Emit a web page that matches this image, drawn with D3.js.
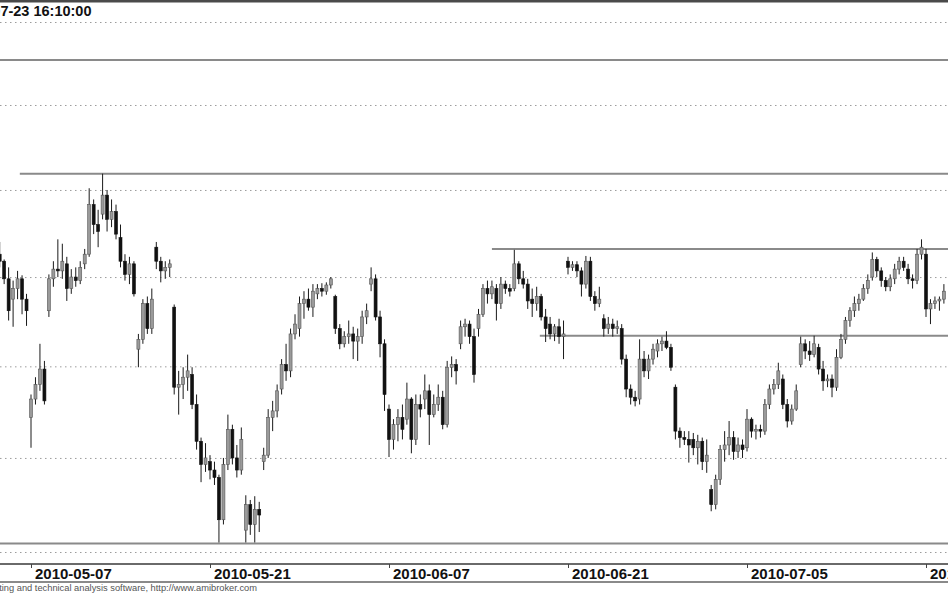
<!DOCTYPE html>
<html>
<head>
<meta charset="utf-8">
<script src="https://cdn.jsdelivr.net/npm/d3@7"></script>
<style>
  body { margin: 0; background: #fff; }
  svg { display: block; }
</style>
</head>
<body>
<svg id="chart" width="948" height="593"></svg>
<script>
// ---------- DATA ----------
const titleText = "2010-07-23 16:10:00";
const footerText = "AmiBroker - advanced charting and technical analysis software, http://www.amibroker.com";

const days = [
  "2010-05-05","2010-05-06","2010-05-07","2010-05-10","2010-05-11","2010-05-12","2010-05-13","2010-05-14",
  "2010-05-17","2010-05-18","2010-05-19","2010-05-20","2010-05-21","2010-05-24","2010-05-25","2010-05-26",
  "2010-05-27","2010-05-28","2010-05-31","2010-06-01","2010-06-02","2010-06-04","2010-06-07","2010-06-08",
  "2010-06-09","2010-06-10","2010-06-11","2010-06-14","2010-06-15","2010-06-16","2010-06-17","2010-06-18",
  "2010-06-21","2010-06-22","2010-06-23","2010-06-24","2010-06-25","2010-06-28","2010-06-29","2010-06-30",
  "2010-07-01","2010-07-02","2010-07-05","2010-07-06","2010-07-07","2010-07-08","2010-07-09","2010-07-12",
  "2010-07-13","2010-07-14","2010-07-15","2010-07-16","2010-07-19","2010-07-20"
];
const slots = ["09:00","11:10","13:20","15:30"];

const opens = [
  40.32,40.26,40.18,39.98, 39.75,39.87,39.98,39.75, 38.44,38.64,38.80,38.97, 39.62,39.98,40.09,40.07,
  40.15,39.87,40.00,39.96, 40.15,40.26,40.83,40.60, 40.72,40.94,40.66,40.75, 40.45,40.18,40.03,40.15,
  39.19,39.30,39.70,39.42, 40.34,40.18,40.07,40.11, 39.66,38.77,38.80,38.88, 38.91,38.58,38.18,37.93,
  37.96,37.87,37.79,37.34, 37.93,38.31,38.00,37.87, 37.23,37.50,37.29,37.45, 37.96,38.03,38.44,38.51,
  38.75,39.02,38.95,39.36, 39.42,39.70,39.75,39.66, 39.81,39.87,39.84,39.91, 39.78,39.42,39.25,39.33,
  39.36,39.28,39.33,39.55, 39.92,39.98,39.55,39.25, 38.53,38.20,38.36,38.44, 38.42,38.64,38.20,38.58,
  38.64,38.73,38.47,38.58, 38.66,38.36,38.99,39.02, 39.25,39.44,39.47,39.33, 39.42,39.58,39.87,39.81,
  39.87,39.70,39.92,39.87, 39.87,40.15,39.98,39.92, 39.75,39.70,39.78,39.55, 39.47,39.36,39.44,39.33,
  40.18,40.11,40.14,40.07, 39.92,40.18,39.78,39.70, 39.53,39.42,39.47,39.42, 39.42,39.08,38.75,38.66,
  38.64,39.08,38.95,39.08, 39.17,39.25,39.28,39.21, 38.77,38.29,38.22,38.20, 38.20,38.11,38.18,37.96,
  37.66,37.50,37.77,38.09, 38.14,38.22,38.07,38.14, 38.11,38.42,38.29,38.31, 38.29,38.58,38.75,38.80,
  38.86,38.58,38.40,38.53, 39.02,39.25,39.17,39.13, 39.21,38.97,38.84,38.86, 38.77,39.10,39.30,39.51,
  39.62,39.70,39.75,39.87, 40.00,40.20,40.07,39.96, 39.89,39.98,40.09,40.18, 40.09,39.98,39.96,40.26,
  40.26,39.64,39.70,39.73, 39.75
];
const highs = [
  40.43,40.40,40.20,40.11, 39.96,40.07,40.02,39.81, 38.69,38.88,39.25,39.06, 40.03,40.18,40.43,40.38,
  40.23,40.09,40.11,40.18, 40.32,41.02,40.89,40.77, 41.19,41.00,40.89,40.83, 40.60,40.26,40.23,40.18,
  39.36,39.75,39.78,39.87, 40.40,40.23,40.18,40.20, 39.69,38.95,38.99,39.13, 38.99,38.69,38.22,38.16,
  38.03,37.96,37.82,38.00, 38.47,38.36,38.14,38.33, 37.60,37.55,37.59,37.53, 38.11,38.53,38.62,38.80,
  39.08,39.25,39.42,39.58, 39.78,39.84,39.87,39.92, 39.92,39.93,39.94,40.00, 39.80,39.47,39.39,39.51,
  39.44,39.42,39.62,39.70, 40.11,40.03,39.62,39.30, 38.58,38.42,38.53,38.58, 38.82,38.66,38.69,38.69,
  38.91,38.80,38.69,38.80, 38.73,39.06,39.11,39.08, 39.51,39.53,39.51,39.42, 39.64,39.92,39.96,39.96,
  39.92,40.00,39.96,39.92, 40.31,40.18,40.07,39.98, 39.87,39.89,39.81,39.64, 39.55,39.47,39.53,39.51,
  40.23,40.18,40.18,40.11, 40.24,40.23,39.84,39.89, 39.58,39.55,39.53,39.51, 39.47,39.13,38.80,38.73,
  39.30,39.17,39.13,39.25, 39.30,39.33,39.39,39.25, 38.80,38.33,38.29,38.29, 38.27,38.25,38.22,38.20,
  37.71,37.82,38.14,38.29, 38.40,38.29,38.22,38.20, 38.53,38.44,38.36,38.36, 38.64,38.80,38.86,39.04,
  38.91,38.64,38.58,38.80, 39.33,39.30,39.28,39.34, 39.25,39.06,38.91,38.91, 39.19,39.36,39.55,39.66,
  39.78,39.81,39.92,40.03, 40.28,40.23,40.11,40.00, 40.03,40.15,40.23,40.23, 40.15,40.03,40.32,40.43,
  40.32,39.75,39.78,39.78, 39.92
];
const lows = [
  40.18,40.11,39.92,39.51, 39.44,39.75,39.58,39.45, 38.11,38.58,38.73,38.58, 39.55,39.89,40.00,39.98,
  39.73,39.81,39.89,39.92, 40.09,40.23,40.49,40.34, 40.66,40.52,40.57,40.43, 40.11,39.96,39.92,39.78,
  38.99,39.25,39.36,39.36, 40.09,39.94,39.98,40.00, 38.69,38.47,38.64,38.73, 38.53,38.09,37.74,37.85,
  37.77,37.71,37.10,37.29, 37.87,37.93,37.79,37.82, 37.10,37.18,37.10,37.21, 37.87,38.00,38.29,38.44,
  38.69,38.84,38.88,39.30, 39.33,39.53,39.62,39.55, 39.75,39.78,39.80,39.87, 39.36,39.19,39.21,39.25,
  39.08,39.06,39.25,39.47, 39.84,39.51,39.10,38.51, 38.01,38.09,38.18,38.20, 38.36,38.05,38.14,38.44,
  38.53,38.14,38.44,38.51, 38.31,38.33,38.88,38.80, 39.19,39.33,39.25,38.82, 39.33,39.55,39.70,39.75,
  39.51,39.64,39.81,39.78, 39.84,39.92,39.87,39.64, 39.55,39.62,39.51,39.27, 39.30,39.28,39.25,39.08,
  40.03,40.07,40.00,39.78, 39.87,39.73,39.62,39.66, 39.33,39.36,39.33,39.36, 39.02,38.66,38.58,38.56,
  38.58,38.88,38.86,39.02, 39.10,39.17,39.19,38.95, 38.20,38.11,38.14,37.95, 38.03,37.93,37.87,37.84,
  37.43,37.45,37.71,37.96, 38.03,37.98,38.00,38.00, 38.07,38.22,38.20,38.22, 38.25,38.53,38.69,38.75,
  38.53,38.33,38.36,38.51, 38.99,39.08,39.06,39.10, 38.91,38.73,38.77,38.66, 38.73,39.08,39.25,39.44,
  39.55,39.62,39.73,39.81, 39.96,40.00,39.89,39.84, 39.84,39.92,40.03,40.07, 39.92,39.87,39.92,40.20,
  39.55,39.47,39.64,39.62, 39.70
];
const closes = [
  40.26,40.18,39.98,39.62, 39.87,39.98,39.75,39.62, 38.64,38.80,38.97,38.62, 39.98,40.09,40.07,40.18,
  39.87,40.00,39.96,40.11, 40.26,40.83,40.60,40.52, 40.94,40.66,40.75,40.49, 40.18,40.03,40.15,39.81,
  39.30,39.70,39.42,39.75, 40.18,40.07,40.11,40.15, 38.77,38.80,38.88,38.95, 38.58,38.18,37.93,38.00,
  37.87,37.79,37.34,37.93, 38.31,38.00,37.87,38.20, 37.50,37.29,37.45,37.39, 38.03,38.44,38.51,38.73,
  39.02,38.95,39.36,39.47, 39.70,39.75,39.66,39.84, 39.87,39.84,39.91,39.98, 39.42,39.25,39.33,39.36,
  39.28,39.33,39.55,39.62, 39.98,39.55,39.25,38.69, 38.20,38.36,38.44,38.31, 38.64,38.20,38.58,38.53,
  38.73,38.47,38.58,38.66, 38.36,38.99,39.02,38.95, 39.44,39.47,39.33,38.91, 39.58,39.87,39.81,39.89,
  39.70,39.92,39.87,39.84, 40.15,39.98,39.92,39.73, 39.70,39.78,39.55,39.42, 39.36,39.44,39.33,39.36,
  40.11,40.14,40.07,39.92, 40.18,39.78,39.70,39.75, 39.42,39.47,39.42,39.44, 39.08,38.75,38.66,38.62,
  39.08,38.95,39.08,39.19, 39.25,39.28,39.21,38.99, 38.29,38.22,38.20,38.14, 38.11,38.18,37.96,38.03,
  37.50,37.77,38.09,38.14, 38.22,38.07,38.14,38.09, 38.42,38.29,38.31,38.29, 38.58,38.75,38.80,38.95,
  38.58,38.40,38.53,38.73, 39.25,39.17,39.13,39.25, 38.97,38.84,38.86,38.77, 39.10,39.30,39.51,39.62,
  39.70,39.75,39.87,39.96, 40.20,40.07,39.96,39.89, 39.98,40.09,40.18,40.11, 39.98,39.96,40.26,40.34,
  39.64,39.70,39.73,39.75, 39.84
];

const tickDates = ["2010-05-07","2010-05-21","2010-06-07","2010-06-21","2010-07-05","2010-07-19"];
const gridPrices = [37, 38, 39, 40, 41, 42, 43];
const levelPrices = [42.54, 41.19, 40.32, 39.34, 37.09];
const levelStartBars = [0, 5.5, 111, 121.7, 0];

// ---------- BUILD ----------
const bars = opens.map((o, i) => ({
  i,
  date: days[Math.floor(i / slots.length)],
  time: slots[i % slots.length],
  o, h: highs[i], l: lows[i], c: closes[i]
}));

const W = 948, H = 593;
const svg = d3.select("#chart");
const font = "'Liberation Sans', Arial, Helvetica, sans-serif";

const firstTick = bars.findIndex(b => b.date === tickDates[0]);
const lastTick = bars.findIndex(b => b.date === tickDates[tickDates.length - 1]);
const x = d3.scaleLinear().domain([firstTick, lastTick]).range([31, 926]);
const y = d3.scaleLog().domain([37, 43]).range([552, 22]);

// top border
svg.append("line").attr("x1", 0).attr("x2", W).attr("y1", 1.2).attr("y2", 1.2)
  .attr("stroke", "#4a4a4a").attr("stroke-width", 2.4);

// dotted grid
const gy = svg.append("g").attr("class", "grid")
  .call(d3.axisLeft(y).tickValues(gridPrices).tickSize(-W).tickFormat(""));
gy.select(".domain").remove();
gy.selectAll(".tick line").attr("stroke", "#9c9c9c").attr("stroke-width", 1)
  .attr("stroke-dasharray", "1.5,3.5");

// horizontal level lines
const lastBar = bars.length + 4;
svg.append("g").selectAll("line").data(levelPrices).join("line")
  .attr("x1", (d, k) => Math.max(0, x(levelStartBars[k])))
  .attr("x2", x(lastBar))
  .attr("y1", d => y(d)).attr("y2", d => y(d))
  .attr("stroke", "#8a8a8a").attr("stroke-width", 2);

// candles
const gc = svg.append("g");
gc.selectAll("line").data(bars).join("line")
  .attr("x1", d => x(d.i)).attr("x2", d => x(d.i))
  .attr("y1", d => y(d.h)).attr("y2", d => y(d.l))
  .attr("stroke", "#1a1a1a").attr("stroke-width", 1);
gc.selectAll("rect").data(bars).join("rect")
  .attr("x", d => x(d.i) - 1.5)
  .attr("width", 3)
  .attr("y", d => y(Math.max(d.o, d.c)))
  .attr("height", d => Math.max(1, Math.abs(y(d.o) - y(d.c))))
  .attr("fill", d => d.c >= d.o ? "#9a9a9a" : "#111")
  .attr("stroke", d => d.c >= d.o ? "#555" : "#111")
  .attr("stroke-width", 0.6);

// x axis
svg.append("line").attr("x1", 0).attr("x2", W).attr("y1", 564).attr("y2", 564)
  .attr("stroke", "#6a6a6a").attr("stroke-width", 2);
svg.append("line").attr("x1", 0).attr("x2", W).attr("y1", 582).attr("y2", 582)
  .attr("stroke", "#8a8a8a").attr("stroke-width", 2);

const tickIdx = tickDates.map(d => bars.findIndex(b => b.date === d));
const gx = svg.append("g").attr("transform", "translate(0,564)")
  .call(d3.axisBottom(x).tickValues(tickIdx).tickSize(4).tickPadding(0)
    .tickFormat(i => bars[i].date));
gx.select(".domain").remove();
gx.selectAll(".tick line").attr("stroke", "#444");
gx.selectAll(".tick text")
  .attr("text-anchor", "start").attr("x", 3.5).attr("y", 14.5).attr("dy", 0)
  .attr("fill", "#111")
  .style("font-family", font).style("font-size", "15px").style("font-weight", "bold");

// title
svg.append("text").attr("x", 91.5).attr("y", 16).attr("text-anchor", "end")
  .style("font-family", font).style("font-size", "14.5px").style("font-weight", "bold")
  .attr("fill", "#111").text(titleText);

// footer
svg.append("text").attr("x", 257).attr("y", 591).attr("text-anchor", "end")
  .style("font-family", font).style("font-size", "9.3px")
  .attr("fill", "#555").text(footerText);
</script>
</body>
</html>
